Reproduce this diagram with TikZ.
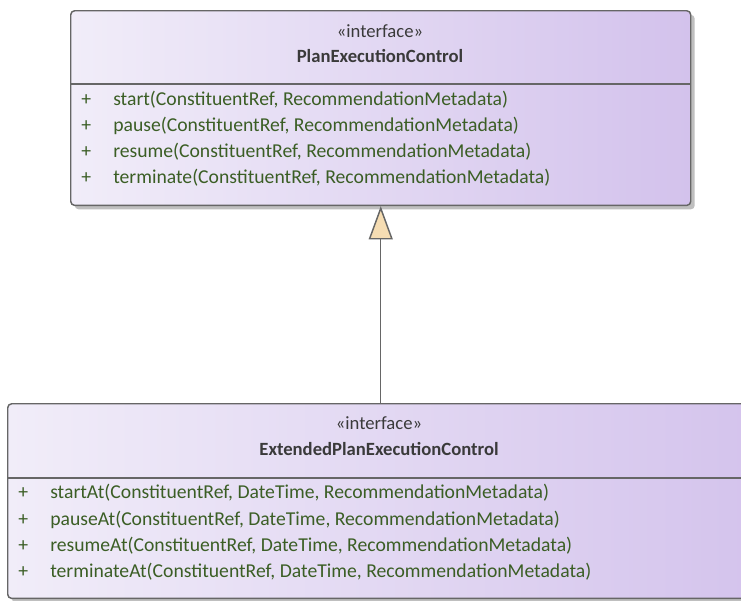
\documentclass[tikz,border=0pt]{standalone}
\usepackage{fontspec}
\setmainfont{Carlito}
\usetikzlibrary{arrows.meta, calc, shadows}
\definecolor{boxleft}{HTML}{F1EDF9}
\definecolor{boxright}{HTML}{D3C2EC}
\definecolor{boxline}{HTML}{666666}
\definecolor{optext}{HTML}{3B5E25}
\definecolor{headtext}{HTML}{3A3A3A}
\definecolor{tipfill}{HTML}{F6DDB3}
\tikzset{classbox/.style = {draw = boxline, line width = 1.1pt, rounded corners = 3pt,
    left color = boxleft, right color = boxright, inner sep = 0pt,
    drop shadow = {shadow xshift = 3pt, shadow yshift = -3pt, fill = black!25, opacity = 1}}}
\tikzset{optext/.style = {anchor = west, inner sep = 0pt, text = optext, font = \fontsize{14.75}{16}\selectfont}}
\tikzset{headtext/.style = {inner sep = 0pt, text = headtext, font = \fontsize{14}{16}\selectfont}}

\begin{document}
\begin{tikzpicture}[x = 0.75pt, y = -0.75pt]
\clip (0,0) rectangle (741,600);
% interfaces
\node [classbox, anchor = north west, minimum width = 465pt, minimum height = 146pt] (pec) at (70,10) {};
\node [classbox, anchor = north west, minimum width = 580pt, minimum height = 146pt] (epec) at (7,403) {};
\draw [boxline, line width = 1.1pt] ($(pec.north west)+(0,74)$) -- ($(pec.north east)+(0,74)$);
\draw [boxline, line width = 1.1pt] ($(epec.north west)+(0,75)$) -- ($(epec.north east)+(0,75)$);
% headers
\node [headtext] (pecst) at (380,31) {«interface»};
\node [headtext, font = \fontsize{14}{16}\selectfont\bfseries] (pecname) at (380,56) {PlanExecutionControl};
\node [headtext] (epecst) at (379,423) {«interface»};
\node [headtext, font = \fontsize{14}{16}\selectfont\bfseries] (epecname) at (379,449) {ExtendedPlanExecutionControl};
% operations
\foreach \y/\op [count = \i] in {100/start, 126/pause, 152/resume, 178/terminate} {
  \node [optext] (pecplus\i) at (81,\y) {+};
  \node [optext] (pecop\i) at (113,\y) {\op(ConstituentRef, RecommendationMetadata)};
}
\foreach \y/\op [count = \i] in {493/startAt, 520/pauseAt, 546/resumeAt, 572/terminateAt} {
  \node [optext] (epecplus\i) at (18,\y) {+};
  \node [optext] (epecop\i) at (50,\y) {\op(ConstituentRef, DateTime, RecommendationMetadata)};
}
% generalization
\draw [boxline, line width = 1.1pt, -{Triangle[width = 18pt, length = 25pt, fill = tipfill]}]
  (pec.south |- epec.north) -- (pec.south);
\end{tikzpicture}
\end{document}
